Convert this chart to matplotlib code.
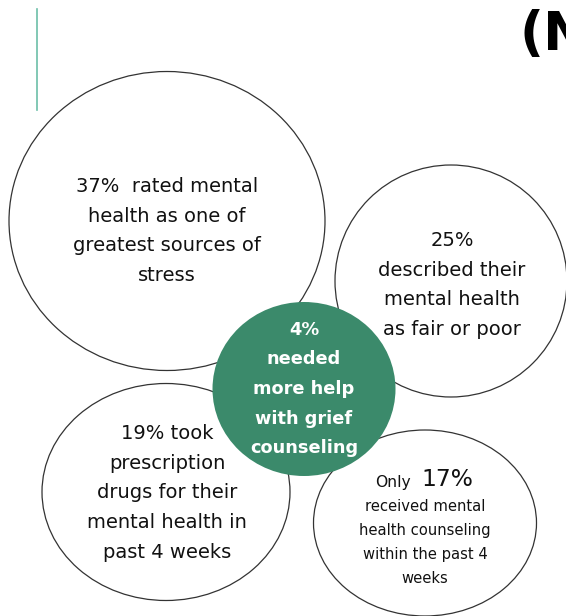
import matplotlib
matplotlib.use("Agg")
import matplotlib.pyplot as plt
from matplotlib.patches import Ellipse

# Survey findings shown in the bubbles
percentages = [37, 25, 4, 19, 17]
statements = [
    "rated mental\nhealth as one of\ngreatest sources of\nstress",
    "described their\nmental health\nas fair or poor",
    "needed\nmore help\nwith grief\ncounseling",
    "took\nprescription\ndrugs for their\nmental health in\npast 4 weeks",
    "received mental\nhealth counseling\nwithin the past 4\nweeks",
]

# Bubble layout in pixel coordinates (x, y, width, height)
centers = [(167, 221), (451, 281), (304, 389), (166, 492), (425, 523)]
sizes = [(316, 299), (232, 232), (183, 174), (248, 217), (223, 186)]
highlight = 2

W, H, DPI = 566, 616, 100
fig = plt.figure(figsize=(W / DPI, H / DPI), dpi=DPI)
ax = fig.add_axes([0, 0, 1, 1])
ax.set_xlim(0, W)
ax.set_ylim(H, 0)
ax.axis("off")

green = "#3b8a6b"
ink = "#111111"
font = "DejaVu Sans"

for i, ((cx, cy), (w, h)) in enumerate(zip(centers, sizes)):
    if i == highlight:
        continue
    ax.add_patch(Ellipse((cx, cy), w, h, facecolor="white",
                         edgecolor="#333333", lw=0.9, zorder=1))
cx, cy = centers[highlight]
w, h = sizes[highlight]
ax.add_patch(Ellipse((cx, cy), w, h, facecolor=green, edgecolor="none", zorder=3))

fs = 14
ls = 1.72

# big bubble
ax.text(centers[0][0], 231,
        f"{percentages[0]}%  " + statements[0],
        ha="center", va="center", fontsize=fs, family=font,
        linespacing=ls, color=ink, zorder=4)
# right bubble
ax.text(centers[1][0] + 1, 285,
        f"{percentages[1]}%\n" + statements[1],
        ha="center", va="center", fontsize=fs, family=font,
        linespacing=ls, color=ink, zorder=4)
# highlighted bubble
ax.text(centers[2][0], 389,
        f"{percentages[2]}%\n" + statements[2],
        ha="center", va="center", fontsize=12.8, family=font,
        fontweight="bold", linespacing=1.83, color="white", zorder=4)
# bottom-left bubble
ax.text(centers[3][0] + 1, 493,
        f"{percentages[3]}% " + statements[3],
        ha="center", va="center", fontsize=fs, family=font,
        linespacing=ls, color=ink, zorder=4)
# bottom-right bubble
ax.text(393, 482, "Only", ha="center", va="center",
        fontsize=11.2, family=font, color=ink, zorder=4)
ax.text(447, 480, f"{percentages[4]}%", ha="center", va="center",
        fontsize=16.8, family=font, color=ink, zorder=4)
ax.text(centers[4][0], 542.5, statements[4],
        ha="center", va="center", fontsize=10.6, family=font,
        linespacing=1.74, color=ink, zorder=4)

# accent rule and cut-off heading
ax.plot([37, 37], [9, 110], color="#6cbfa8", lw=1.2)
ax.text(519, 50, "(N", ha="left", va="baseline", fontsize=38,
        family=["Liberation Sans Narrow", "DejaVu Sans"],
        fontweight="bold", color="black")

fig.savefig("out.png", dpi=DPI)
